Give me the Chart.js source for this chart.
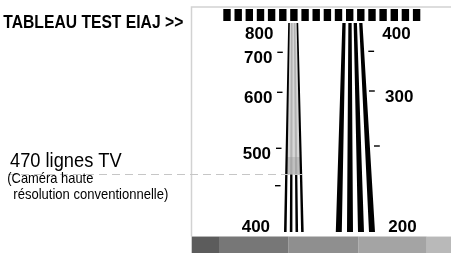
<!DOCTYPE html>
<html>
<head>
<meta charset="utf-8">
<script src="https://cdn.jsdelivr.net/npm/chart.js@4.4.1/dist/chart.umd.min.js"></script>
<style>
  html, body { margin: 0; padding: 0; background: #fff; }
  #chart { display: block; }
</style>
</head>
<body>
<canvas id="chart" width="451" height="253"></canvas>
<script>
// Chart units match the 451x253 picture (x right, y down).
const wedgeTop = 23;
const wedgeBottom = 232;
const limitY = 174.5; // the 470 TV lines mark

// high resolution wedge (800 -> 400)
const hiResTopX = [289, 291.8, 294.6, 297.4];
const hiResBottomX = [285.3, 291.1, 296.8, 302.4];
// low resolution wedge (400 -> 200)
const loResTopX = [344, 350, 355.3, 360.8];
const loResBottomX = [338.8, 350, 361, 372];

const hiResLabels = ['800', '700', '600', '500', '400'];
const hiResLabelY = [39, 62.5, 103, 158.5, 232];
const loResLabels = ['400', '300', '200'];
const loResLabelY = [39, 102, 231.5];

const hiResTickX = [277.3, 277, 276, 275];
const hiResTickY = [52.3, 92.3, 148.3, 185.7];
const loResTickX = [368.3, 369, 374];
const loResTickY = [51.3, 91, 146];

const blockX = [227.0, 238.2, 249.3, 260.5, 271.6, 282.8, 293.9, 305.1, 316.2,
  327.4, 338.5, 349.7, 360.8, 372.0, 383.1, 394.3, 405.4, 416.6];

const grayEdges = [191.7, 219, 288.3, 358.3, 426.7, 451];
const grayColors = ['#5c5c5c', '#777777', '#8f8f8f', '#a4a4a4', '#b9b9b9'];

// shaded (unresolved) part of the 800 wedge
const hiResHazeX = [289, 297.4, 301, 286.3];
const hiResHazeY = [wedgeTop, wedgeTop, limitY, limitY];
const hiResDarkX = [286.6, 300.6, 301, 286.3];
const hiResDarkY = [157, 157, limitY, limitY];

function line(points, color, width, order, extra) {
  return Object.assign({
    data: points,
    borderColor: color,
    borderWidth: width,
    borderCapStyle: 'butt',
    pointRadius: 0,
    fill: false,
    tension: 0,
    order: order,
  }, extra || {});
}

// closed polygon; ends on the right-most vertex so the filler clip spans it
function shape(points, color, order) {
  let minI = 0, maxP = points[0];
  points.forEach((p, i) => {
    if (p.x < points[minI].x) minI = i;
    if (p.x > maxP.x) maxP = p;
  });
  const ring = points.slice(minI).concat(points.slice(0, minI));
  ring.push(ring[0], maxP);
  return {
    data: ring,
    backgroundColor: color,
    borderWidth: 0,
    pointRadius: 0,
    fill: 'shape',
    tension: 0,
    order: order,
  };
}

function wedgeLine(xTop, xBottom, wTop, wBottom) {
  return [
    {x: xTop - wTop / 2, y: wedgeTop},
    {x: xTop + wTop / 2, y: wedgeTop},
    {x: xBottom + wBottom / 2, y: wedgeBottom},
    {x: xBottom - wBottom / 2, y: wedgeBottom},
  ];
}

const datasets = [];

// frame
datasets.push(line([{x: 191.5, y: 236.5}, {x: 191.5, y: 7}, {x: 451, y: 7}], '#d2d2d2', 1.5, 20));

// gray steps
grayColors.forEach((c, i) => {
  datasets.push(line([{x: grayEdges[i], y: 244.8}, {x: grayEdges[i + 1], y: 244.8}], c, 16.5, 19));
});

// black blocks along the top
blockX.forEach(x => {
  datasets.push(line([{x: x, y: 9}, {x: x, y: 21}], '#000', 7.4, 18));
});

// 800 wedge: inner lines, haze, then outer lines
[1, 2].forEach(i => {
  datasets.push(shape(wedgeLine(hiResTopX[i], hiResBottomX[i], 1.6, 2.6), '#000', 12));
});
datasets.push(shape(hiResHazeX.map((x, i) => ({x: x, y: hiResHazeY[i]})), 'rgba(208,208,208,0.86)', 11));
datasets.push(shape(hiResDarkX.map((x, i) => ({x: x, y: hiResDarkY[i]})), 'rgba(150,150,150,0.35)', 10));
[0, 3].forEach(i => {
  datasets.push(shape(wedgeLine(hiResTopX[i], hiResBottomX[i], 1.6, 2.6), '#000', 5));
});

// 400 wedge
loResTopX.forEach((x, i) => {
  datasets.push(shape(wedgeLine(x, loResBottomX[i], 3.3, 6), '#000', 5));
});

// scale ticks
hiResTickX.forEach((x, i) => {
  datasets.push(line([{x: x, y: hiResTickY[i]}, {x: x + 5.5, y: hiResTickY[i]}], '#000', 1.4, 2));
});
loResTickX.forEach((x, i) => {
  datasets.push(line([{x: x, y: loResTickY[i]}, {x: x + 5.8, y: loResTickY[i]}], '#000', 1.4, 2));
});

// 470 lines mark
datasets.push(line([{x: 8, y: limitY}, {x: 305, y: limitY}], '#c6c6c6', 1, 0, {borderDash: [8, 5]}));

const textPlugin = {
  id: 'eiajText',
  afterDatasetsDraw(chart) {
    const ctx = chart.ctx;
    const sx = chart.scales.x, sy = chart.scales.y;

    function put(str, x, y, font, width) {
      ctx.save();
      ctx.font = font;
      ctx.fillStyle = '#000';
      ctx.textBaseline = 'alphabetic';
      ctx.textAlign = 'left';
      const px = sx.getPixelForValue(x), py = sy.getPixelForValue(y);
      ctx.translate(px, py);
      if (width) ctx.scale(width / ctx.measureText(str).width, 1);
      ctx.fillText(str, 0, 0);
      ctx.restore();
    }

    const bold = 'bold 17px "Liberation Sans", Arial, sans-serif';
    const hiResLabelX = [245, 244, 244, 242.7, 241.7];
    const loResLabelX = [382.3, 385, 388.3];
    hiResLabels.forEach((t, i) => put(t, hiResLabelX[i], hiResLabelY[i], bold));
    loResLabels.forEach((t, i) => put(t, loResLabelX[i], loResLabelY[i], bold));

    put('TABLEAU TEST EIAJ >>', 3.3, 27.5, 'bold 17.5px "Liberation Sans", Arial, sans-serif', 180);
    put('470 lignes TV', 10, 167.3, '20px "Liberation Sans", Arial, sans-serif', 111.7);
    put('(Caméra haute', 7.3, 183, '14.5px "Liberation Sans", Arial, sans-serif', 86);
    put('résolution conventionnelle)', 13.3, 198.5, '14.5px "Liberation Sans", Arial, sans-serif', 155);
  }
};

new Chart(document.getElementById('chart').getContext('2d'), {
  type: 'line',
  data: { datasets: datasets },
  options: {
    responsive: false,
    animation: false,
    devicePixelRatio: 1,
    events: [],
    layout: { padding: 0 },
    plugins: {
      legend: { display: false },
      tooltip: { enabled: false },
    },
    scales: {
      x: { type: 'linear', min: 0, max: 451, display: false },
      y: { type: 'linear', min: 0, max: 253, reverse: true, display: false },
    },
  },
  plugins: [textPlugin],
});
</script>
</body>
</html>
